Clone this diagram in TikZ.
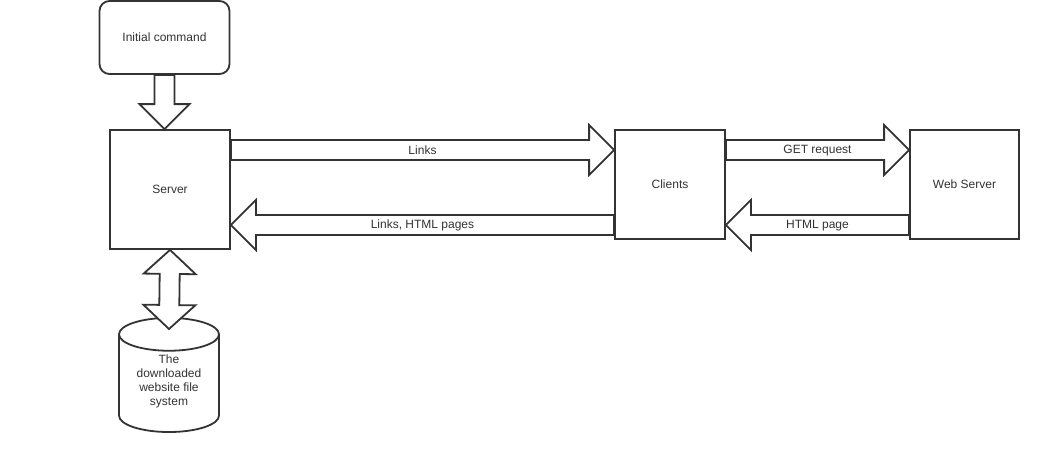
\documentclass[tikz,border=0pt]{standalone}
\usepackage{fontspec}
\setmainfont{Liberation Sans}
\usetikzlibrary{calc}
\usetikzlibrary{shapes}
\definecolor{ink}{HTML}{333333}
\tikzset{blk/.style={draw=ink, line width=1.8pt, fill=white, line join=miter},
  box/.style={draw=ink, line width=1.8pt, fill=white, text=ink, font=\fontsize{12}{14}\selectfont},
  lbl/.style={text=ink, font=\fontsize{12}{14}\selectfont, inner sep=0pt, yshift=-0.5pt}}
\newcommand{\blockArrow}[2]{ \path ($(#2)!25pt!(#1)$) coordinate (hd); \draw[blk] ($(#1)!10pt!90:(#2)$) -- ($(hd)!10pt!90:(#2)$) -- ($(hd)!25pt!90:(#2)$) -- (#2) -- ($(hd)!25pt!-90:(#2)$) -- ($(hd)!10pt!-90:(#2)$) -- ($(#1)!10pt!-90:(#2)$) -- cycle;}
\newcommand{\blockArrowB}[2]{ \path ($(#1)!24pt!(#2)$) coordinate (ha) ($(#2)!24pt!(#1)$) coordinate (hb); \draw[blk] (#1) -- ($(ha)!26pt!90:(#2)$) -- ($(ha)!10pt!90:(#2)$) -- ($(hb)!10pt!90:(#2)$) -- ($(hb)!26pt!90:(#2)$) -- (#2) -- ($(hb)!26pt!-90:(#2)$) -- ($(hb)!10pt!-90:(#2)$) -- ($(ha)!10pt!-90:(#2)$) -- ($(ha)!26pt!-90:(#2)$) -- cycle;}
\begin{document}
\begin{tikzpicture}[x=1pt, y=-1pt]
\useasboundingbox (0,0) rectangle (1045,450);
% boxes
\node[box, rounded corners=10pt, minimum width=130pt, minimum height=73pt] (init) at (164.5,37.5) {Initial command};
\node[box, minimum width=120pt, minimum height=119pt] (server) at (170,189.5) {Server};
\node[box, minimum width=110pt, minimum height=109pt] (clients) at (670,184.5) {Clients};
\node[box, minimum width=109pt, minimum height=109pt] (web) at (964.5,184.5) {Web Server};
\node[box, cylinder, shape border rotate=90, aspect=0.46, minimum width=100pt, minimum height=111pt, align=center, anchor=top] (disk) at (169,317) {The\\downloaded\\website file\\system\rule[-12.5pt]{0pt}{0pt}};
% rows of the arrows
\coordinate (top) at (0,150);
\coordinate (bot) at (0,225);
% arrows
\blockArrow{init.south}{init.south |- server.north}
\blockArrowB{server.south}{$(disk.top)+(0,12)$}
\blockArrow{server.east |- top}{clients.west |- top}
\blockArrow{clients.west |- bot}{server.east |- bot}
\blockArrow{clients.east |- top}{web.west |- top}
\blockArrow{web.west |- bot}{clients.east |- bot}
% labels
\node[lbl] (links) at ($(server.east |- top)!0.5!(clients.west |- top)$) {Links};
\node[lbl] (pages) at ($(server.east |- bot)!0.5!(clients.west |- bot)$) {Links, HTML pages};
\node[lbl] (get) at ($(clients.east |- top)!0.5!(web.west |- top)$) {GET request};
\node[lbl] (page) at ($(clients.east |- bot)!0.5!(web.west |- bot)$) {HTML page};
\end{tikzpicture}
\end{document}
